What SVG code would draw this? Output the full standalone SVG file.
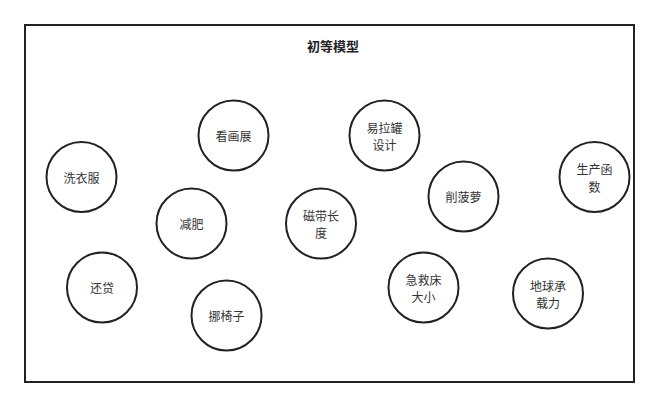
<svg xmlns="http://www.w3.org/2000/svg" width="660" height="408" viewBox="0 0 660 408">
<style>
.n ellipse{fill:#fff;stroke:#222;stroke-width:2}
text{font-family:"Noto Sans CJK SC","Liberation Sans",sans-serif;font-size:12px;fill:#333;text-anchor:middle;dominant-baseline:central}
.t{font-size:13px;font-weight:bold;fill:#222}
</style>
<rect x="25" y="25" width="609" height="357" fill="#fff" stroke="#222" stroke-width="2"/>
<text class="t" x="333" y="45">初等模型</text>
<g id="connectors"/>
<g id="n1" class="n"><ellipse cx="233.5" cy="135.5" rx="35" ry="35"/><text x="233.5" y="135.5">看画展</text></g>
<g id="n2" class="n"><ellipse cx="384.5" cy="135.5" rx="35" ry="35"/><text x="384.5" y="127">易拉罐</text><text x="384.5" y="144.5">设计</text></g>
<g id="n3" class="n"><ellipse cx="81.5" cy="177" rx="35" ry="35"/><text x="81.5" y="177">洗衣服</text></g>
<g id="n4" class="n"><ellipse cx="594.5" cy="177" rx="35" ry="35"/><text x="594.5" y="168.5">生产函</text><text x="594.5" y="186">数</text></g>
<g id="n5" class="n"><ellipse cx="463.5" cy="196.5" rx="35" ry="35"/><text x="463.5" y="196.5">削菠萝</text></g>
<g id="n6" class="n"><ellipse cx="191.5" cy="223.5" rx="35" ry="35"/><text x="191.5" y="223.5">减肥</text></g>
<g id="n7" class="n"><ellipse cx="321" cy="223.5" rx="35" ry="35"/><text x="321" y="215">磁带长</text><text x="321" y="232.5">度</text></g>
<g id="n8" class="n"><ellipse cx="102" cy="287.5" rx="35" ry="35"/><text x="102" y="287.5">还贷</text></g>
<g id="n9" class="n"><ellipse cx="423.5" cy="287.5" rx="35" ry="35"/><text x="423.5" y="279">急救床</text><text x="423.5" y="296.5">大小</text></g>
<g id="n10" class="n"><ellipse cx="548" cy="293.5" rx="35" ry="35"/><text x="548" y="285">地球承</text><text x="548" y="302.5">载力</text></g>
<g id="n11" class="n"><ellipse cx="226.5" cy="315.5" rx="35" ry="35"/><text x="226.5" y="315.5">挪椅子</text></g>
</svg>
